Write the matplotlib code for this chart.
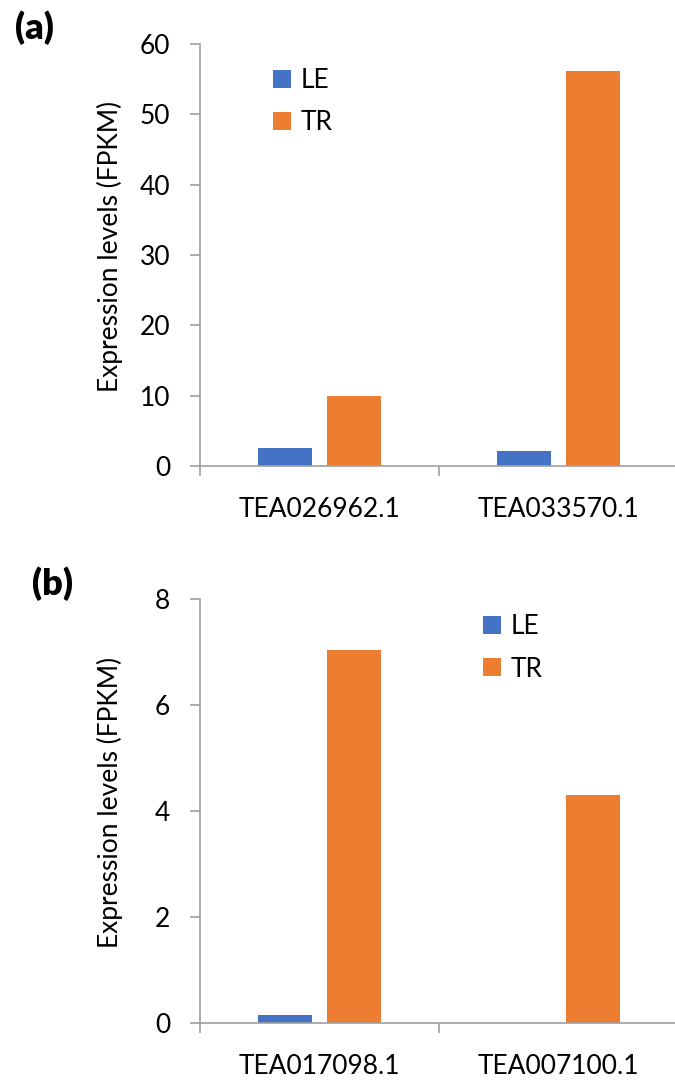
import matplotlib.pyplot as plt
import numpy as np

plt.rcParams['font.family'] = ['Lato', 'DejaVu Sans']

# panel (a)
genes_a = ['TEA026962.1', 'TEA033570.1']
le_a = [2.5, 2.1]
tr_a = [10.0, 56.1]

# panel (b)
genes_b = ['TEA017098.1', 'TEA007100.1']
le_b = [0.15, 0.0]
tr_b = [7.04, 4.30]

blue = '#4472C4'
orange = '#ED7D31'
grey = '#A0A0A0'
fs = 19

fig = plt.figure(figsize=(6.75, 10.8), dpi=100)
ax1 = fig.add_axes([0.2963, 0.5685, 0.708, 0.3907])
ax2 = fig.add_axes([0.2963, 0.0528, 0.708, 0.3926])


def draw_panel(ax, genes, le, tr, ymax, step, leg_x, leg_y):
    x = np.arange(len(genes))
    w = 0.226
    off = 0.144
    ax.bar(x - off, le, w, color=blue, label='LE')
    ax.bar(x + off, tr, w, color=orange, label='TR')
    ax.set_xlim(-0.5, len(genes) - 0.5)
    ax.set_ylim(0, ymax)
    ax.set_yticks(np.arange(0, ymax + step / 2, step))
    ax.set_xticks(x)
    ax.set_xticklabels(genes, fontsize=fs)
    ax.set_xticks(np.arange(-0.5, len(genes), 1.0), minor=True)
    ax.tick_params(axis='x', which='major', length=0, pad=22.5)
    ax.tick_params(axis='x', which='minor', length=7.5, width=1.2, color=grey)
    ax.tick_params(axis='y', length=7.5, width=1.2, color=grey, labelsize=fs, pad=14)
    for s in ['top', 'right']:
        ax.spines[s].set_visible(False)
    for s in ['left', 'bottom']:
        ax.spines[s].set_color(grey)
        ax.spines[s].set_linewidth(1.2)
    ax.set_ylabel('Expression levels (FPKM)', fontsize=fs, va='center')
    ax.yaxis.set_label_coords(-0.188, 0.52)
    ax.legend(loc='upper left', bbox_to_anchor=(leg_x, leg_y), frameon=False,
              fontsize=fs, handlelength=0.68, handleheight=0.68,
              handletextpad=0.35, labelspacing=0.66)


draw_panel(ax1, genes_a, le_a, tr_a, 60, 10, 0.1035, 1.0)
draw_panel(ax2, genes_b, le_b, tr_b, 8, 2, 0.543, 1.02)

fig.text(34 / 675, 1 - 28 / 1080, '(a)', fontsize=26, fontweight='heavy',
         ha='center', va='center')
fig.text(52 / 675, 1 - 584 / 1080, '(b)', fontsize=26, fontweight='heavy',
         ha='center', va='center')

plt.savefig('out.png', dpi=100)
